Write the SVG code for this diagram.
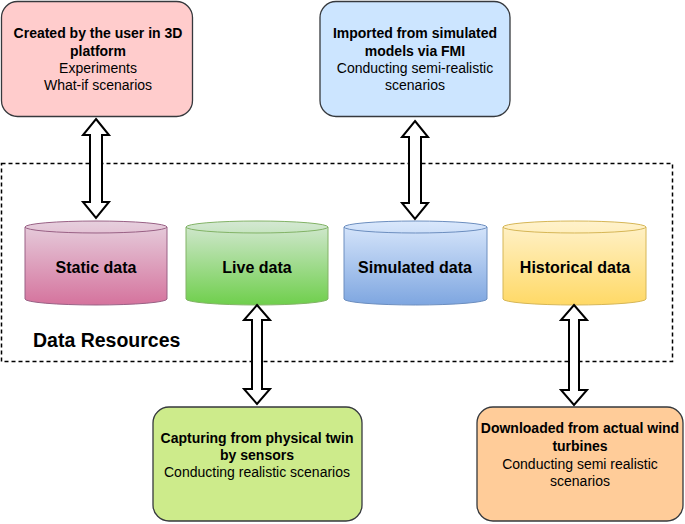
<svg xmlns="http://www.w3.org/2000/svg" width="685" height="524" viewBox="0 0 685 524">
<defs>
<linearGradient id="gStatic" x1="0" y1="0" x2="0" y2="1"><stop offset="0" stop-color="#e6d0de"/><stop offset="1" stop-color="#d5739d"/></linearGradient>
<linearGradient id="gLive" x1="0" y1="0" x2="0" y2="1"><stop offset="0" stop-color="#d5e8d4"/><stop offset="1" stop-color="#6fcf4c"/></linearGradient>
<linearGradient id="gSim" x1="0" y1="0" x2="0" y2="1"><stop offset="0" stop-color="#dae8fc"/><stop offset="1" stop-color="#7ea6e0"/></linearGradient>
<linearGradient id="gHist" x1="0" y1="0" x2="0" y2="1"><stop offset="0" stop-color="#fff2cc"/><stop offset="1" stop-color="#ffd966"/></linearGradient>
</defs>
<style>
.box{stroke:#36393d;stroke-width:1.3}
.t{font-family:"Liberation Sans",Arial,sans-serif;font-size:14px;fill:#000;text-anchor:middle}
.b{font-weight:bold}
.cl{font-family:"Liberation Sans",Arial,sans-serif;font-size:16px;font-weight:bold;fill:#000;text-anchor:middle}
.arr{fill:#fff;stroke:#000;stroke-width:2;stroke-linejoin:miter}
.cyl{stroke-width:1}
</style>
<rect width="685" height="524" fill="#fff"/>
<g id="data-resources">
<rect x="1.5" y="163.5" width="671" height="198" fill="none" stroke="#000" stroke-width="1.5" stroke-dasharray="4 3"/>
<text x="33" y="347" font-family="Liberation Sans,Arial,sans-serif" font-size="19.5" font-weight="bold">Data Resources</text>
</g>
<g id="box-user">
<rect class="box" x="1.5" y="1.5" width="191" height="115" rx="16" fill="#ffcccc"/>
<text class="t b" x="98" y="38">Created by the user in 3D</text>
<text class="t b" x="98" y="56">platform</text>
<text class="t" x="98" y="73">Experiments</text>
<text class="t" x="98" y="90">What-if scenarios</text>
</g>
<g id="box-fmi">
<rect class="box" x="320" y="1.5" width="190" height="115" rx="16" fill="#cce5ff"/>
<text class="t b" x="415" y="38">Imported from simulated</text>
<text class="t b" x="415" y="56">models via FMI</text>
<text class="t" x="415" y="73">Conducting semi-realistic</text>
<text class="t" x="415" y="90">scenarios</text>
</g>
<g id="box-sensors">
<rect class="box" x="153" y="407" width="209" height="114" rx="16" fill="#cdeb8b"/>
<text class="t b" x="257" y="443">Capturing from physical twin</text>
<text class="t b" x="257" y="460">by sensors</text>
<text class="t" x="257" y="477">Conducting realistic scenarios</text>
</g>
<g id="box-turbines">
<rect class="box" x="477" y="407" width="206" height="114" rx="16" fill="#ffcc99"/>
<text class="t b" x="580" y="433">Downloaded from actual wind</text>
<text class="t b" x="580" y="451">turbines</text>
<text class="t" x="580" y="469">Conducting semi realistic</text>
<text class="t" x="580" y="486">scenarios</text>
</g>
<g id="cyl-static">
<path class="cyl" d="M25,227 A71,6 0 0 1 167,227 L167,299 A71,6 0 0 1 25,299 Z" fill="url(#gStatic)" stroke="#996185"/>
<path class="cyl" d="M25,227 A71,6 0 0 0 167,227" fill="none" stroke="#996185"/>
<text class="cl" x="96" y="273">Static data</text>
</g>
<g id="cyl-live">
<path class="cyl" d="M186,227 A71,6 0 0 1 328,227 L328,299 A71,6 0 0 1 186,299 Z" fill="url(#gLive)" stroke="#82b366"/>
<path class="cyl" d="M186,227 A71,6 0 0 0 328,227" fill="none" stroke="#82b366"/>
<text class="cl" x="257" y="273">Live data</text>
</g>
<g id="cyl-sim">
<path class="cyl" d="M344,227 A71.5,6 0 0 1 487,227 L487,299 A71.5,6 0 0 1 344,299 Z" fill="url(#gSim)" stroke="#6c8ebf"/>
<path class="cyl" d="M344,227 A71.5,6 0 0 0 487,227" fill="none" stroke="#6c8ebf"/>
<text class="cl" x="415" y="273">Simulated data</text>
</g>
<g id="cyl-hist">
<path class="cyl" d="M503,227 A71.5,6 0 0 1 646,227 L646,299 A71.5,6 0 0 1 503,299 Z" fill="url(#gHist)" stroke="#d6b656"/>
<path class="cyl" d="M503,227 A71.5,6 0 0 0 646,227" fill="none" stroke="#d6b656"/>
<text class="cl" x="575" y="273">Historical data</text>
</g>
<g id="connectors">
<polygon class="arr" points="96,119 109,135 102,135 102,202 109,202 96,218 83,202 90,202 90,135 83,135"/>
<polygon class="arr" points="415,121 428,137 421,137 421,203 428,203 415,219 402,203 409,203 409,137 402,137"/>
<polygon class="arr" points="257,305 270,320 262,320 262,389 270,389 257,404 244,389 252,389 252,320 244,320"/>
<polygon class="arr" points="574,305 587,320 579,320 579,390 587,390 574,405 561,390 569,390 569,320 561,320"/>
</g>
</svg>
